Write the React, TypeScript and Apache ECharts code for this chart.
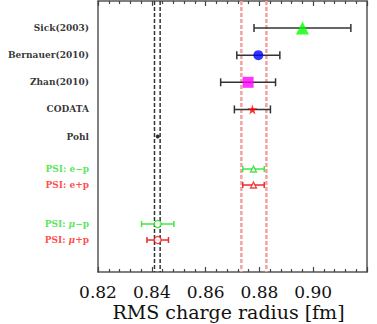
import React, { useEffect, useRef } from "react";
import * as echarts from "echarts";

const names = ["Sick(2003)", "Bernauer(2010)", "Zhan(2010)", "CODATA", "Pohl", "PSI: e−p", "PSI: e+p", "PSI: {i|μ}−p", "PSI: {i|μ}+p"];
const rows = [1, 2, 3, 4, 5, 6.2, 6.79, 8.23, 8.82];
const values = [0.896, 0.8796, 0.8758, 0.8774, 0.8422, 0.8778, 0.8778, 0.8422, 0.8422];
const errors = [0.018, 0.008, 0.0102, 0.0067, 0, 0.004, 0.004, 0.006, 0.004];
const colors = ["#000000", "#000000", "#000000", "#000000", "#000000", "#2ee02e", "#ff1a1a", "#2ee02e", "#ff1a1a"];
const barColors = ["#333333", "#333333", "#333333", "#333333", "#333333", "#44e844", "#ee2a2a", "#44e844", "#ee2a2a"];
const markerColors = ["#00ff00", "#0000ff", "#ff00ff", "#ff0000", "#000000", "#22dd22", "#ee1a1a", "#22dd22", "#ee1a1a"];
const markerShapes = ["triangle", "circle", "rect", "star", "circle", "triangle", "triangle", "circle", "circle"];
const markerSizes = [13, 10, 11, 10, 4, 6, 6, 7, 7];
const markerFilled = [true, true, true, true, true, false, false, false, false];
const pohlBand = [0.8410, 0.8431];
const codataBand = [0.8733, 0.8826];

const STAR = "path://M0,-1L0.2245,-0.309L0.951,-0.309L0.363,0.118L0.588,0.809L0,0.382L-0.588,0.809L-0.363,0.118L-0.951,-0.309L-0.2245,-0.309Z";
const SERIF = "'DejaVu Serif', 'Liberation Serif', serif";

export default function App() {
  const ref = useRef<HTMLDivElement>(null);
  useEffect(() => {
    const chart = echarts.init(ref.current!, null, { renderer: "svg" });
    const mkLine = () => ({ show: true, onZero: false, lineStyle: { color: "#555", width: 1.5 } });
    const mkTick = () => ({ show: true, inside: true, length: 5, lineStyle: { color: "#444", width: 1.2 } });
    const mkMinor = () => ({ show: true, splitNumber: 5, length: 3, lineStyle: { color: "#444", width: 1.2 } });
    const vline = (x: number, color: string, width: number, dash: number[]) => ({
      type: "line",
      data: [[x, 0], [x, 10]],
      symbol: "none",
      silent: true,
      lineStyle: { color, width, type: dash },
      z: 1,
    });
    const option: any = {
      animation: false,
      grid: { left: 98, right: 10, top: 1, bottom: 52, containLabel: false, outerBoundsMode: "none" },
      xAxis: [
        {
          type: "value", min: 0.82, max: 0.92, interval: 0.02, position: "bottom",
          axisLine: mkLine(), axisTick: mkTick(), minorTick: mkMinor(),
          splitLine: { show: false }, minorSplitLine: { show: false },
          axisLabel: {
            show: true, margin: 11, fontSize: 17, color: "#111", fontFamily: SERIF,
            formatter: (v: number) => (v > 0.915 ? "" : v.toFixed(2)),
          },
          name: "RMS charge radius [fm]", nameLocation: "middle", nameGap: 30, nameMoveOverlap: false,
          nameTextStyle: { fontSize: 19, color: "#111", fontFamily: SERIF, padding: [0, 8, 0, 0] },
        },
        {
          type: "value", min: 0.82, max: 0.92, interval: 0.02, position: "top",
          axisLine: mkLine(), axisTick: mkTick(), minorTick: mkMinor(),
          splitLine: { show: false }, minorSplitLine: { show: false },
          axisLabel: { show: true, color: "rgba(0,0,0,0)", fontSize: 1, formatter: () => "" },
        },
      ],
      yAxis: [
        { type: "value", min: 0, max: 10, inverse: true, position: "left", axisLine: mkLine(), axisTick: { show: false }, axisLabel: { show: false }, splitLine: { show: false } },
        { type: "value", min: 0, max: 10, inverse: true, position: "right", axisLine: mkLine(), axisTick: { show: false }, axisLabel: { show: false }, splitLine: { show: false } },
      ],
      series: [
        vline(pohlBand[0], "#333", 1.5, [4, 2]),
        vline(pohlBand[1], "#333", 1.5, [4, 2]),
        vline(codataBand[0], "#f4a0a0", 2.5, [4, 2]),
        vline(codataBand[1], "#f4a0a0", 2.5, [4, 2]),
        {
          type: "custom",
          z: 3,
          data: values.map((v, i) => [v - errors[i], v + errors[i], rows[i], i]),
          encode: { x: [0, 1], y: 2 },
          renderItem: (params: any, api: any) => {
            const i = api.value(3);
            if (errors[i] === 0) return null;
            const a = api.coord([api.value(0), api.value(2)]);
            const b = api.coord([api.value(1), api.value(2)]);
            const h = i < 5 ? 4 : 3;
            const style = { stroke: barColors[i], lineWidth: 1.5 };
            return {
              type: "group",
              children: [
                { type: "line", shape: { x1: a[0], y1: a[1], x2: b[0], y2: b[1] }, style },
                { type: "line", shape: { x1: a[0], y1: a[1] - h, x2: a[0], y2: a[1] + h }, style },
                { type: "line", shape: { x1: b[0], y1: b[1] - h, x2: b[0], y2: b[1] + h }, style },
              ],
            };
          },
        },
        {
          type: "scatter",
          z: 4,
          data: values.map((v, i) => ({
            value: [v, rows[i]],
            symbol: markerShapes[i] === "star" ? STAR : markerShapes[i],
            symbolSize: markerSizes[i],
            itemStyle: markerFilled[i]
              ? { color: markerColors[i] }
              : { color: "#ffffff", borderColor: markerColors[i], borderWidth: 1.3 },
          })),
        },
        {
          type: "scatter",
          z: 5,
          clip: false,
          symbolSize: 0,
          data: names.map((n, i) => ({
            value: [0.82, rows[i]],
            label: {
              show: true,
              position: "left",
              distance: 9,
              formatter: n,
              color: colors[i],
              fontSize: 9,
              fontWeight: "bold",
              fontFamily: SERIF,
              rich: { i: { fontStyle: "italic", fontSize: 9, fontWeight: "bold", color: colors[i], fontFamily: SERIF } },
            },
          })),
        },
      ],
    };
    chart.setOption(option);
    return () => chart.dispose();
  }, []);
  return <div ref={ref} style={{ width: 377, height: 324, position: "absolute", left: 0, top: 0 }} />;
}
